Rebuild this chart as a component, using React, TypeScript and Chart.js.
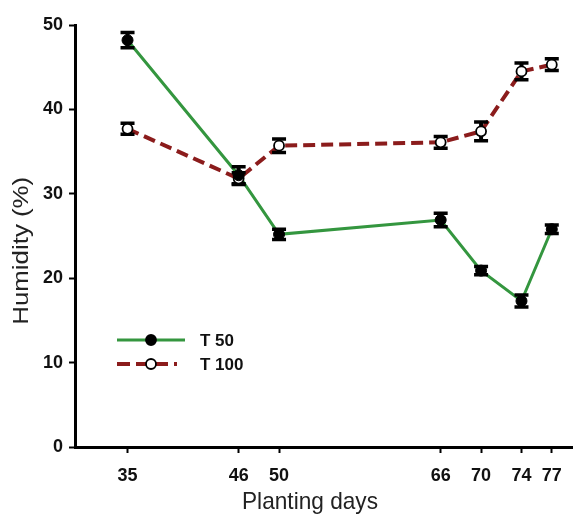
import React, { useEffect, useRef } from 'react';
import { Chart, registerables } from 'chart.js';

Chart.register(...registerables);

// ---- data ----
const days = [35, 46, 50, 66, 70, 74, 77];
const t50 = [48.2, 32.2, 25.2, 26.9, 20.9, 17.3, 25.8];
const t50Err = [0.9, 1.0, 0.6, 0.8, 0.5, 0.7, 0.5];
const t100 = [37.7, 31.8, 35.7, 36.1, 37.4, 44.5, 45.3];
const t100Err = [0.65, 0.7, 0.8, 0.7, 1.1, 1.0, 0.7];
const xTicks = [35, 46, 50, 66, 70, 74, 77];
const yTicks = [0, 10, 20, 30, 40, 50];
const seriesLabels = ['T 50', 'T 100'];
const xTitle = 'Planting days';
const yTitle = 'Humidity (%)';

const FONT = "'Liberation Sans', Arial, Helvetica, sans-serif";
const GREEN = '#34963f';
const RED = '#8b1c1c';

const toPts = (vals: number[]) => days.map((d, i) => ({ x: d, y: vals[i] }));

let barsDrawn = false;

const errorBarPlugin = {
  id: 'errorBars',
  beforeDatasetsDraw() {
    barsDrawn = false;
  },
  beforeDatasetDraw(chart: any, args: any) {
    const ds = chart.data.datasets[args.index];
    if (ds.showLine !== false || barsDrawn) return;
    barsDrawn = true;
    const ctx = chart.ctx;
    const xs = chart.scales.x;
    const ys = chart.scales.y;
    const series = [
      { v: t50, e: t50Err },
      { v: t100, e: t100Err },
    ];
    ctx.save();
    ctx.strokeStyle = '#000';
    series.forEach((s) => {
      days.forEach((d, i) => {
        const x = xs.getPixelForValue(d);
        const yt = ys.getPixelForValue(s.v[i] + s.e[i]);
        const yb = ys.getPixelForValue(s.v[i] - s.e[i]);
        ctx.lineWidth = 4;
        ctx.beginPath();
        ctx.moveTo(x, yt);
        ctx.lineTo(x, yb);
        ctx.stroke();
        ctx.lineWidth = 3.5;
        ctx.beginPath();
        ctx.moveTo(x - 7, yt);
        ctx.lineTo(x + 7, yt);
        ctx.moveTo(x - 7, yb);
        ctx.lineTo(x + 7, yb);
        ctx.stroke();
      });
    });
    ctx.restore();
  },
};

const decorPlugin = {
  id: 'decor',
  afterDraw(chart: any) {
    const ctx = chart.ctx;
    const a = chart.chartArea;
    // legend
    const x0 = a.left + 42;
    const mx = a.left + 76;
    const rows = [
      { y: a.top + 315, color: GREEN, dash: [] as number[], w: 3, fill: '#000', end: a.left + 110 },
      { y: a.top + 339, color: RED, dash: [13, 6], w: 4, fill: '#fff', end: a.left + 102 },
    ];
    ctx.save();
    rows.forEach((r, i) => {
      ctx.strokeStyle = r.color;
      ctx.lineWidth = r.w;
      ctx.setLineDash(r.dash);
      ctx.beginPath();
      ctx.moveTo(x0, r.y);
      ctx.lineTo(r.end, r.y);
      ctx.stroke();
      ctx.setLineDash([]);
      ctx.beginPath();
      ctx.arc(mx, r.y, 5, 0, Math.PI * 2);
      ctx.fillStyle = r.fill;
      ctx.fill();
      ctx.lineWidth = 1.8;
      ctx.strokeStyle = '#000';
      ctx.stroke();
      ctx.fillStyle = '#111';
      ctx.font = `bold 17px ${FONT}`;
      ctx.textAlign = 'left';
      ctx.textBaseline = 'middle';
      ctx.fillText(seriesLabels[i], a.left + 125, r.y + 1);
    });
    ctx.restore();

    // axis titles
    ctx.save();
    ctx.fillStyle = '#222';
    ctx.font = `22px ${FONT}`;
    ctx.textAlign = 'center';
    ctx.textBaseline = 'alphabetic';
    const wy = ctx.measureText(yTitle).width;
    ctx.translate(28, a.top + (a.bottom - a.top) * 0.535);
    ctx.rotate(-Math.PI / 2);
    ctx.scale(148 / wy, 1);
    ctx.fillText(yTitle, 0, 0);
    ctx.restore();

    ctx.save();
    ctx.fillStyle = '#222';
    ctx.font = `24px ${FONT}`;
    ctx.textAlign = 'center';
    ctx.textBaseline = 'alphabetic';
    const wx = ctx.measureText(xTitle).width;
    ctx.translate(310, a.bottom + 62);
    ctx.scale(136 / wx, 1);
    ctx.fillText(xTitle, 0, 0);
    ctx.restore();
  },
};

export default function App() {
  const ref = useRef<HTMLCanvasElement>(null);

  useEffect(() => {
    const canvas = ref.current;
    if (!canvas) return;
    const chart = new Chart(canvas, {
      type: 'line',
      data: {
        datasets: [
          {
            label: seriesLabels[0],
            data: toPts(t50),
            borderColor: GREEN,
            borderWidth: 3,
            pointRadius: 0,
            fill: false,
            order: 2,
          },
          {
            label: seriesLabels[1],
            data: toPts(t100),
            borderColor: RED,
            borderWidth: 4,
            borderDash: [12, 6],
            pointRadius: 0,
            fill: false,
            order: 2,
          },
          {
            label: seriesLabels[0] + ' pts',
            data: toPts(t50),
            showLine: false,
            pointRadius: 5.5,
            pointBackgroundColor: '#000',
            pointBorderColor: '#000',
            pointBorderWidth: 1,
            order: 1,
          },
          {
            label: seriesLabels[1] + ' pts',
            data: toPts(t100),
            showLine: false,
            pointRadius: 5,
            pointBackgroundColor: '#fff',
            pointBorderColor: '#000',
            pointBorderWidth: 1.8,
            order: 1,
          },
        ],
      },
      options: {
        responsive: false,
        animation: false,
        devicePixelRatio: 1,
        events: [],
        layout: { autoPadding: false, padding: { top: 25, right: 0, left: 0, bottom: 0 } },
        plugins: {
          legend: { display: false },
          tooltip: { enabled: false },
        },
        scales: {
          x: {
            type: 'linear',
            min: 29.8,
            max: 79.1,
            afterBuildTicks: (s: any) => {
              s.ticks = xTicks.map((v) => ({ value: v }));
            },
            afterFit: (s: any) => {
              s.height = 70;
              s.paddingLeft = 0;
              s.paddingRight = 0;
            },
            grid: {
              display: true,
              drawOnChartArea: false,
              drawTicks: true,
              tickLength: 6,
              tickWidth: 2,
              tickColor: '#000',
            },
            border: { display: true, color: '#000', width: 3 },
            ticks: {
              color: '#111',
              font: { family: FONT, size: 18, weight: 'bold' },
              padding: 12,
              maxRotation: 0,
              autoSkip: false,
            },
            title: { display: false },
          },
          y: {
            type: 'linear',
            min: 0,
            max: 50,
            afterBuildTicks: (s: any) => {
              s.ticks = yTicks.map((v) => ({ value: v }));
            },
            afterFit: (s: any) => {
              s.width = 75;
            },
            grid: {
              display: true,
              drawOnChartArea: false,
              drawTicks: true,
              tickLength: 6,
              tickWidth: 2,
              tickColor: '#000',
            },
            border: { display: true, color: '#000', width: 3 },
            ticks: {
              color: '#111',
              font: { family: FONT, size: 18, weight: 'bold' },
              padding: 6,
            },
            title: { display: false },
          },
        },
      },
      plugins: [errorBarPlugin, decorPlugin],
    } as any);
    return () => chart.destroy();
  }, []);

  return (
    <div style={{ position: 'absolute', left: 0, top: 0, width: 573, height: 517 }}>
      <canvas ref={ref} width={573} height={517} style={{ display: 'block', width: 573, height: 517 }} />
    </div>
  );
}
